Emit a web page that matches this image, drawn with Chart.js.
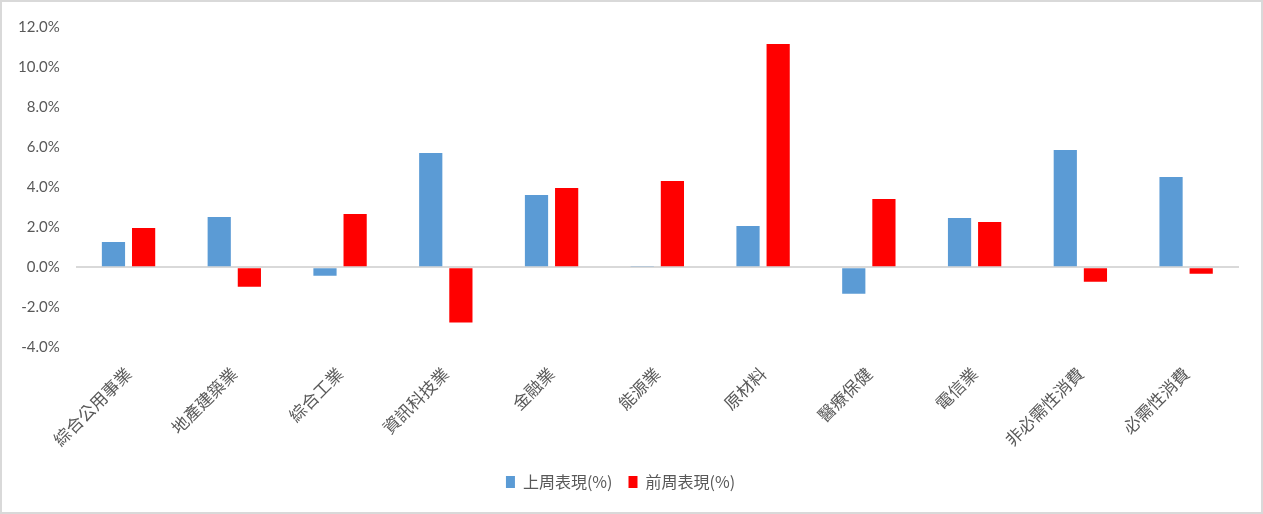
<!DOCTYPE html>
<html>
<head>
<meta charset="utf-8">
<script src="https://cdn.jsdelivr.net/npm/chart.js@4"></script>
<style>
  body { margin: 0; background: #fff; }
  #wrap {
    width: 1263px;
    height: 514px;
    box-sizing: border-box;
    border: 2px solid #d9d9d9;
    position: relative;
  }
</style>
</head>
<body>
<div id="wrap"><canvas id="perfChart"></canvas></div>
<script>
// sectors and weekly performance (%)
var sectors = ["綜合公用事業", "地產建築業", "綜合工業", "資訊科技業", "金融業", "能源業", "原材料", "醫療保健", "電信業", "非必需性消費", "必需性消費"];
var lastWeek = [1.26, 2.51, -0.42, 5.71, 3.61, 0.07, 2.06, -1.32, 2.46, 5.86, 4.51];
var prevWeek = [1.96, -0.97, 2.66, -2.76, 3.96, 4.31, 11.15, 3.41, 2.26, -0.72, -0.32];
var seriesNames = ["上周表現(%)", "前周表現(%)"];

var labelFont = "'Noto Sans CJK TC', 'Noto Sans', sans-serif";

document.addEventListener("DOMContentLoaded", function () {
  new Chart(document.getElementById("perfChart"), {
    type: "bar",
    data: {
      labels: sectors,
      datasets: [
        {
          label: seriesNames[0],
          data: lastWeek,
          backgroundColor: "#5b9bd5",
          categoryPercentage: 0.57,
          barPercentage: 0.77,
        },
        {
          label: seriesNames[1],
          data: prevWeek,
          backgroundColor: "#ff0000",
          categoryPercentage: 0.57,
          barPercentage: 0.77,
        },
      ],
    },
    options: {
      responsive: true,
      maintainAspectRatio: false,
      animation: false,
      layout: {
        padding: { top: 10, left: 0, right: 22, bottom: 12 },
      },
      plugins: {
        tooltip: { enabled: false },
        legend: {
          position: "bottom",
          labels: {
            boxWidth: 9,
            boxHeight: 12,
            padding: 16,
            color: "#595959",
            font: { family: labelFont, size: 16 },
          },
        },
      },
      scales: {
        x: {
          grid: { display: false },
          border: { display: false },
          ticks: {
            minRotation: 45,
            maxRotation: 45,
            autoSkip: false,
            padding: 8,
            color: "#595959",
            font: { family: labelFont, size: 17 },
          },
        },
        y: {
          min: -4,
          max: 12,
          border: { display: false },
          grid: {
            drawTicks: false,
            lineWidth: 2,
            color: function (ctx) {
              return ctx.tick && ctx.tick.value === 0 ? "#d9d9d9" : "rgba(0,0,0,0)";
            },
          },
          ticks: {
            stepSize: 2,
            padding: 16,
            color: "#595959",
            font: { family: "Lato, 'Liberation Sans', sans-serif", size: 15 },
            callback: function (value) {
              return value.toFixed(1) + "%";
            },
          },
        },
      },
    },
  });
});
</script>
</body>
</html>
